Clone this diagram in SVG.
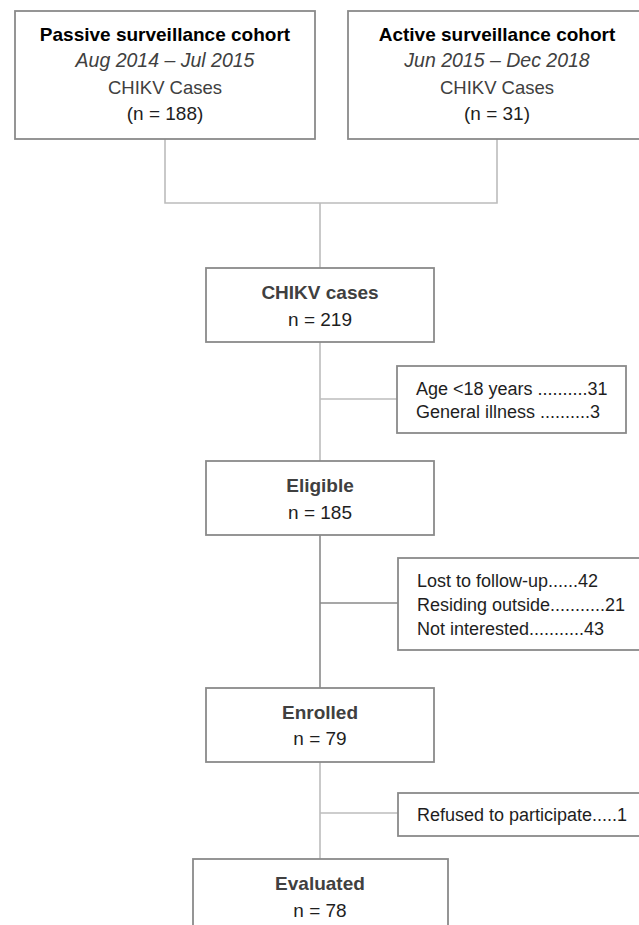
<svg xmlns="http://www.w3.org/2000/svg" width="639" height="925" viewBox="0 0 639 925">
<style>
.box{fill:#ffffff;stroke:#8a8a8a;stroke-width:1.8}
.ln{fill:none;stroke:#bcbcbc;stroke-width:1.6}
.ln2{fill:none;stroke:#8a8a8a;stroke-width:1.6}
text{font-family:"Liberation Sans",Arial,sans-serif}
.c{text-anchor:middle}
.t{font-size:19px;font-weight:bold;fill:#000}
.d{font-size:19.5px;font-style:italic;fill:#404040}
.r{font-size:18.5px;fill:#404040}
.n{font-size:19px;fill:#1e1e1e}
.h{font-size:19px;font-weight:bold;fill:#404040}
.x{font-size:18px;fill:#1e1e1e}
</style>
<rect width="639" height="925" fill="#ffffff"/>
<g id="connectors">
<path class="ln" d="M165,139 V203 H497 V139"/>
<path class="ln" d="M320,203 V268"/>
<path class="ln" d="M320,342 V461"/>
<path class="ln" d="M320,399 H397"/>
<path class="ln2" d="M320,535 V688"/>
<path class="ln2" d="M320,603 H398"/>
<path class="ln" d="M320,762 V859"/>
<path class="ln" d="M320,813 H398"/>
</g>
<g id="passive">
<rect class="box" x="15" y="11" width="300" height="128"/>
<text class="c t" x="165" y="41">Passive surveillance cohort</text>
<text class="c d" x="165" y="67">Aug 2014 – Jul 2015</text>
<text class="c r" x="165" y="94">CHIKV Cases</text>
<text class="c n" x="165" y="120">(n = 188)</text>
</g>
<g id="active">
<rect class="box" x="348" y="11" width="298" height="128"/>
<text class="c t" x="497" y="41">Active surveillance cohort</text>
<text class="c d" x="497" y="67">Jun 2015 – Dec 2018</text>
<text class="c r" x="497" y="94">CHIKV Cases</text>
<text class="c n" x="497" y="120">(n = 31)</text>
</g>
<g id="chikv">
<rect class="box" x="206" y="268" width="228" height="74"/>
<text class="c h" x="320" y="299">CHIKV cases</text>
<text class="c n" x="320" y="326">n = 219</text>
</g>
<g id="excl1">
<rect class="box" x="397" y="366" width="229" height="67"/>
<text class="x" x="416" y="395">Age &lt;18 years ..........31</text>
<text class="x" x="416" y="418">General illness ..........3</text>
</g>
<g id="eligible">
<rect class="box" x="206" y="461" width="228" height="74"/>
<text class="c h" x="320" y="492">Eligible</text>
<text class="c n" x="320" y="519">n = 185</text>
</g>
<g id="excl2">
<rect class="box" x="398" y="558" width="250" height="92"/>
<text class="x" x="417" y="587">Lost to follow-up......42</text>
<text class="x" x="417" y="611">Residing outside...........21</text>
<text class="x" x="417" y="635">Not interested...........43</text>
</g>
<g id="enrolled">
<rect class="box" x="206" y="688" width="228" height="74"/>
<text class="c h" x="320" y="719">Enrolled</text>
<text class="c n" x="320" y="745">n = 79</text>
</g>
<g id="excl3">
<rect class="box" x="398" y="793" width="250" height="43"/>
<text class="x" x="417" y="821">Refused to participate.....1</text>
</g>
<g id="evaluated">
<rect class="box" x="193" y="859" width="255" height="90"/>
<text class="c h" x="320" y="890">Evaluated</text>
<text class="c n" x="320" y="917">n = 78</text>
</g>
</svg>
